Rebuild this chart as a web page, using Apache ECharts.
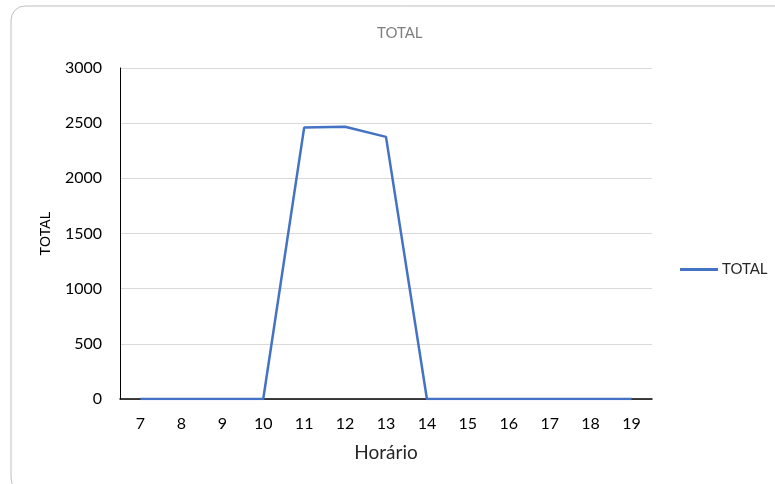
<!DOCTYPE html>
<html><head><meta charset="utf-8">
<script src="https://cdn.jsdelivr.net/npm/echarts@6/dist/echarts.min.js"></script>
<style>html,body{margin:0;padding:0;background:#fff}#c{width:775px;height:484px}</style>
</head><body><div id="c"></div>
<script>
const categories = ['7','8','9','10','11','12','13','14','15','16','17','18','19'];
const totalValues = [0,0,0,0,2460,2467,2376,0,0,0,0,0,0];
const seriesName = 'TOTAL';
const chart = echarts.init(document.getElementById('c'));
const font = 'Lato, "Open Sans", sans-serif';
chart.setOption({
  animation:false,
  graphic:[{type:'rect',shape:{x:11,y:6,width:800,height:486,r:14},style:{fill:'none',stroke:'#bfbfbf',lineWidth:1},silent:true,z:-1}],
  title:{text:'TOTAL',left:372,top:21,textStyle:{color:'#7f7f7f',fontSize:15,fontWeight:'normal',fontFamily:font}},
  legend:{left:675,top:257,orient:'vertical',itemWidth:38,itemHeight:3,itemGap:0,icon:'rect',
    textStyle:{fontSize:15,color:'#262626',fontFamily:font,padding:[0,0,0,-1]},data:[seriesName]},
  grid:{left:120,right:123,top:68,bottom:85},
  xAxis:{type:'category',data:categories,boundaryGap:true,
    name:'Horário',nameLocation:'middle',nameGap:44,nameTextStyle:{fontSize:19,color:'#262626',fontFamily:font},
    axisLine:{lineStyle:{color:'#000',width:1.5}},axisTick:{show:false},
    axisLabel:{fontSize:16,color:'#000',margin:17,fontFamily:font}},
  yAxis:{type:'value',min:0,max:3000,interval:500,
    name:'TOTAL',nameLocation:'middle',nameGap:67,nameRotate:90,nameTextStyle:{fontSize:14,color:'#000',fontFamily:'"Liberation Sans", Arial, sans-serif'},
    axisLine:{show:true,lineStyle:{color:'#000',width:1}},axisTick:{show:false},
    splitLine:{lineStyle:{color:'#d9d9d9',width:1}},
    axisLabel:{fontSize:16,color:'#000',margin:18,fontFamily:font,formatter:v=>String(v)}},
  series:[{name:seriesName,type:'line',data:totalValues,symbol:'none',
    lineStyle:{color:'#4472c4',width:2.5},itemStyle:{color:'#4472c4'}}]
});
</script></body></html>
